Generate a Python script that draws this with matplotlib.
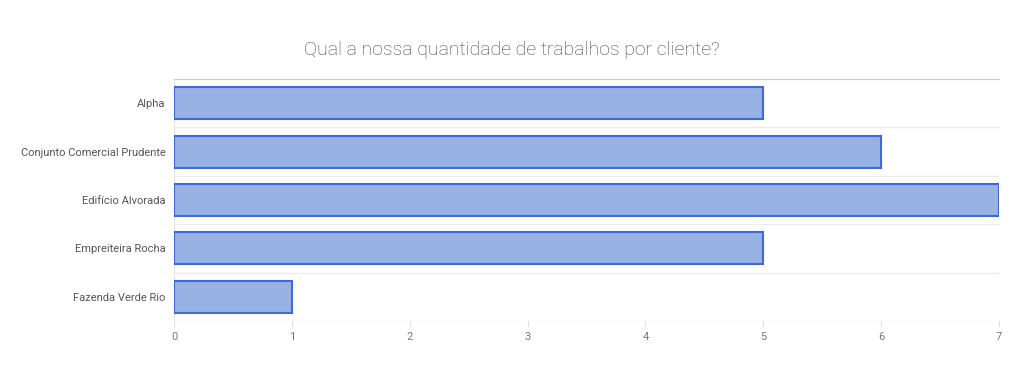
import numpy as np
import matplotlib.pyplot as plt

clientes = ['Alpha', 'Conjunto Comercial Prudente', 'Edifício Alvorada',
            'Empreiteira Rocha', 'Fazenda Verde Rio']
trabalhos = [5, 6, 7, 5, 1]
ticks_x = [0, 1, 2, 3, 4, 5, 6, 7]

plt.rcParams['font.family'] = ['Roboto', 'DejaVu Sans']

fig = plt.figure(figsize=(10.24, 3.7), dpi=100)
ax = fig.add_axes([174 / 1024, 1 - 321 / 370, 825 / 1024, 242 / 370])

pos = np.arange(len(clientes))
ax.barh(pos, trabalhos, height=0.66, color='#98b2e5', edgecolor='#3d6ad6',
        linewidth=1.5, zorder=3)

ax.set_xlim(0, 7)
ax.set_ylim(len(clientes) - 0.5, -0.5)
ax.set_xticks(ticks_x)
ax.set_xticklabels([str(t) for t in ticks_x])
ax.set_yticks(pos)
ax.set_yticklabels(clientes)

# linhas separando as categorias
ax.set_yticks(np.arange(len(clientes) + 1) - 0.5, minor=True)
ax.grid(True, axis='y', which='minor', color='#ebebeb', linewidth=1, zorder=0)
ax.tick_params(axis='y', which='both', length=0, pad=6, labelsize=8, labelcolor='#555555')
ax.tick_params(axis='x', length=4, color='#dddddd', pad=4, labelsize=8, labelcolor='#777777')

for s in ['right', 'bottom']:
    ax.spines[s].set_visible(False)
ax.spines['top'].set_color('#cccccc')
ax.spines['left'].set_color('#e6e6e6')

fig.suptitle('Qual a nossa quantidade de trabalhos por cliente?', x=0.5, y=1 - 50 / 370,
             va='center', fontsize=14, fontweight='light', color='#444444')

fig.savefig('out.png', dpi=100, facecolor='white')
